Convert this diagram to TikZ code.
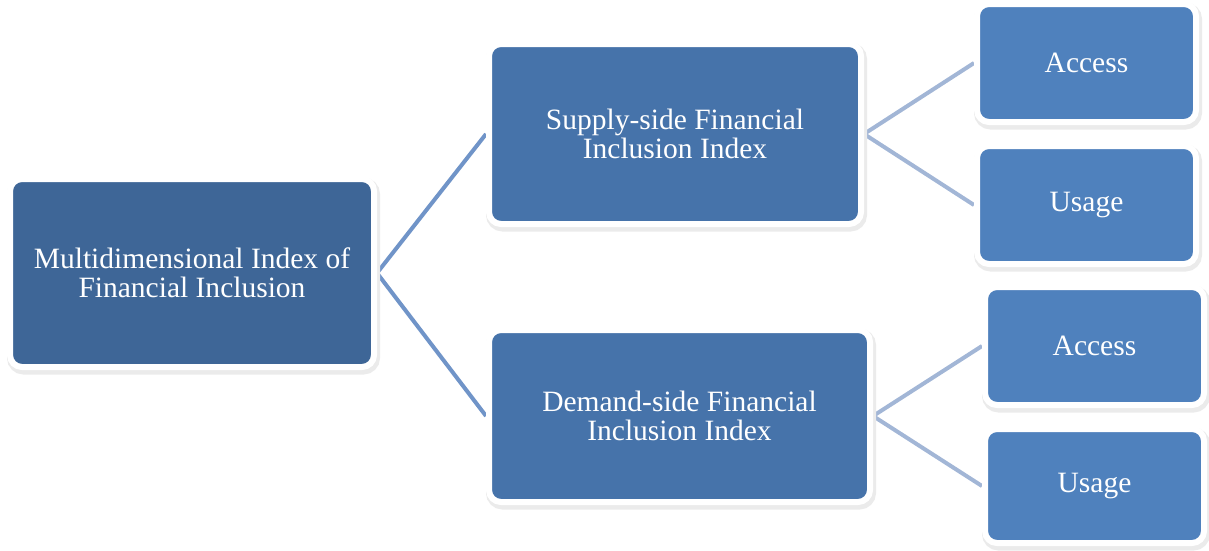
\documentclass[tikz,border=0pt]{standalone}
\usepackage{fontspec}
\setmainfont{Liberation Serif}
\usetikzlibrary{backgrounds}

\definecolor{rootblue}{HTML}{3E6697}
\definecolor{midblue}{HTML}{4673AA}
\definecolor{leafblue}{HTML}{4F81BD}
\definecolor{linkdark}{HTML}{7094C8}
\definecolor{linklight}{HTML}{A2B6D6}

\tikzset{
  card/.style={
    draw=white, line width=6pt, rounded corners=12pt,
    text=white, align=center, inner sep=0pt,
    font=\fontsize{29.5}{29}\selectfont,
    preaction={draw=black!18, fill=black!18, line width=6pt,
               transform canvas={xshift=1.5pt, yshift=-2.5pt}},
    preaction={draw=black!8, fill=black!8, line width=9pt,
               transform canvas={xshift=1.5pt, yshift=-3pt}}
  },
  rootcard/.style={card, fill=rootblue},
  midcard/.style={card, fill=midblue},
  leafcard/.style={card, fill=leafblue},
  link/.style={line width=4pt, linkdark},
  sublink/.style={line width=4pt, linklight}
}

\begin{document}
\begin{tikzpicture}[x=1pt, y=-1pt]
  \useasboundingbox (0,0) rectangle (1209,550);

  % main index
  \node[rootcard, minimum width=364pt, minimum height=188pt] (root) at (192,273)
    {Multidimensional Index of\\Financial Inclusion};

  % sub-indices
  \node[midcard, minimum width=372pt, minimum height=180pt] (supply) at (675,134)
    {Supply-side Financial\\Inclusion Index};
  \node[midcard, minimum width=381pt, minimum height=172pt] (demand) at (679.5,416)
    {Demand-side Financial\\Inclusion Index};

  % dimensions
  \node[leafcard, minimum width=219pt, minimum height=118pt] (acc1) at (1086.5,63) {Access};
  \node[leafcard, minimum width=219pt, minimum height=118pt] (use1) at (1086.5,205) {Usage};
  \node[leafcard, minimum width=219pt, minimum height=118pt] (acc2) at (1094.5,346) {Access};
  \node[leafcard, minimum width=219pt, minimum height=114pt] (use2) at (1094.5,486) {Usage};

  % connectors behind the cards
  \begin{scope}[on background layer]
    \draw[link, line join=miter] (supply.west) -- (root.east) -- (demand.west);
    \draw[sublink, line join=miter] (acc1.west) -- (supply.east) -- (use1.west);
    \draw[sublink, line join=miter] (acc2.west) -- (demand.east) -- (use2.west);
  \end{scope}
\end{tikzpicture}
\end{document}
